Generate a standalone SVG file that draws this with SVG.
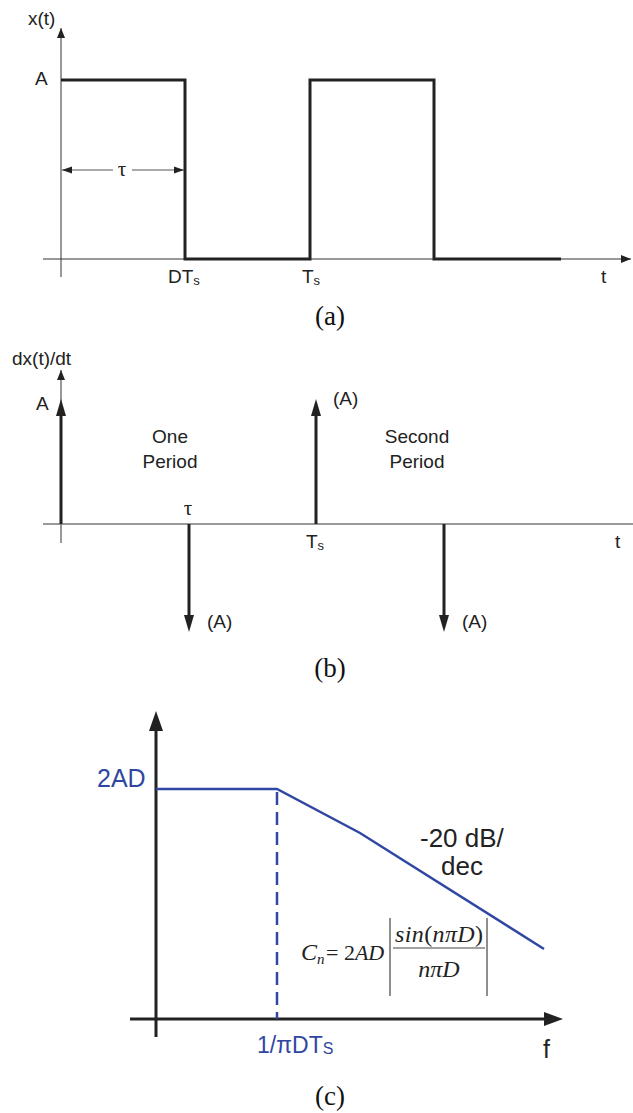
<svg xmlns="http://www.w3.org/2000/svg" width="633" height="1113" viewBox="0 0 633 1113">
<style>
.lbl{font-family:"Liberation Sans",Arial,sans-serif;font-size:19px;fill:#222}
.tau{font-family:"Liberation Serif","Times New Roman",serif;font-size:21px;fill:#222}
.cap{font-family:"Liberation Serif","Times New Roman",serif;font-size:27px;fill:#111}
.sig{fill:none;stroke:#222;stroke-width:3}
.axis{fill:none;stroke:#333;stroke-width:1}
.gax{fill:none;stroke:#777;stroke-width:1.5}
.imp{fill:none;stroke:#222;stroke-width:3}
.blue{fill:none;stroke:#2f47a2;stroke-width:2.5}
.btxt{font-family:"Liberation Sans",Arial,sans-serif;fill:#2f47a2}
.ctxt{font-family:"Liberation Sans",Arial,sans-serif;fill:#222}
.math{font-family:"Liberation Serif","Times New Roman",serif;font-size:24px;font-style:italic;fill:#222}
</style>
<defs>
<marker id="sa" viewBox="0 0 10 10" refX="10" refY="5" markerWidth="10" markerHeight="10" markerUnits="userSpaceOnUse" orient="auto"><path d="M0,1 L10,5 L0,9 z" fill="#222"/></marker>
<marker id="da" viewBox="0 0 10 10" refX="10" refY="5" markerWidth="12" markerHeight="10" markerUnits="userSpaceOnUse" orient="auto-start-reverse"><path d="M0,1.5 L10,5 L0,8.5 z" fill="#222"/></marker>
</defs>

<g id="panel-a">
<line class="axis" x1="61" y1="277" x2="61" y2="28" marker-end="url(#sa)"/>
<line class="axis" x1="43" y1="259" x2="631" y2="259" marker-end="url(#sa)"/>
<polyline class="sig" points="61,80 185,80 185,259 310,259 310,80 434,80 434,259 561,259"/>
<line x1="62" y1="170" x2="113" y2="170" stroke="#555" stroke-width="1" marker-start="url(#da)"/>
<line x1="132" y1="170" x2="184" y2="170" stroke="#555" stroke-width="1" marker-end="url(#da)"/>
<text class="tau" x="122" y="176" text-anchor="middle">τ</text>
<text class="lbl" x="28" y="25">x(t)</text>
<text class="lbl" x="35" y="85">A</text>
<text class="lbl" x="168" y="283">DT<tspan font-size="13" dy="2">s</tspan></text>
<text class="lbl" x="302" y="283">T<tspan font-size="13" dy="2">s</tspan></text>
<text class="lbl" x="601" y="283">t</text>
<text class="cap" x="330" y="325" text-anchor="middle">(a)</text>
</g>

<g id="panel-b">
<line class="axis" x1="61" y1="543" x2="61" y2="370" marker-end="url(#sa)"/>
<line class="gax" x1="43" y1="524" x2="633" y2="524"/>
<text class="lbl" x="12" y="365">dx(t)/dt</text>
<text class="lbl" x="36" y="410">A</text>
<g id="imp1"><line class="imp" x1="61" y1="524" x2="61" y2="414"/><path d="M56,416 L61,399 L66,416 z" fill="#222"/></g>
<g id="imp2"><line class="imp" x1="189" y1="524" x2="189" y2="616"/><path d="M184,615 L189,632 L194,615 z" fill="#222"/></g>
<g id="imp3"><line class="imp" x1="316" y1="524" x2="316" y2="414"/><path d="M311,416 L316,399 L321,416 z" fill="#222"/></g>
<g id="imp4"><line class="imp" x1="444" y1="524" x2="444" y2="616"/><path d="M439,615 L444,632 L449,615 z" fill="#222"/></g>
<text class="lbl" x="170" y="443" text-anchor="middle">One</text>
<text class="lbl" x="170" y="468" text-anchor="middle">Period</text>
<text class="lbl" x="417" y="443" text-anchor="middle">Second</text>
<text class="lbl" x="417" y="468" text-anchor="middle">Period</text>
<text class="tau" x="188" y="515" text-anchor="middle">τ</text>
<text class="lbl" x="306" y="548">T<tspan font-size="13" dy="2">s</tspan></text>
<text class="lbl" x="615" y="548">t</text>
<text class="lbl" x="207" y="628">(A)</text>
<text class="lbl" x="333" y="405">(A)</text>
<text class="lbl" x="462" y="628">(A)</text>
<text class="cap" x="330" y="677" text-anchor="middle">(b)</text>
</g>

<g id="panel-c">
<line x1="156" y1="1037" x2="156" y2="728" stroke="#222" stroke-width="3"/>
<path d="M149,731 L156,711 L163,731 z" fill="#222"/>
<line x1="130" y1="1019" x2="547" y2="1019" stroke="#222" stroke-width="3"/>
<path d="M544,1012 L563,1019 L544,1026 z" fill="#222"/>
<polyline class="blue" points="156,789 277,789 360,833 544,949"/>
<line class="blue" x1="277" y1="792" x2="277" y2="1019" stroke-dasharray="13,7"/>
<text class="btxt" x="97" y="787" font-size="25">2AD</text>
<text class="ctxt" x="420" y="847" font-size="26">-20 dB/</text>
<text class="ctxt" x="462" y="875" font-size="26" text-anchor="middle">dec</text>
<g id="formula">
<text class="math" x="301" y="960">C<tspan font-size="15" dy="4">n</tspan></text>
<text class="math" x="326" y="960" style="font-size:22px"><tspan font-style="normal">= 2</tspan>AD</text>
<line x1="390" y1="918" x2="390" y2="996" stroke="#444" stroke-width="1.2"/>
<line x1="487" y1="918" x2="487" y2="996" stroke="#444" stroke-width="1.2"/>
<line x1="393" y1="948" x2="485" y2="948" stroke="#444" stroke-width="1.2"/>
<text class="math" x="395" y="942" textLength="88" lengthAdjust="spacing">sin<tspan font-style="normal">(</tspan>nπD<tspan font-style="normal">)</tspan></text>
<text class="math" x="439" y="977" text-anchor="middle">nπD</text>
</g>
<text class="btxt" x="257" y="1053" font-size="23">1/πDT<tspan font-size="16" dy="1">S</tspan></text>
<text class="ctxt" x="543" y="1058" font-size="25">f</text>
<text class="cap" x="330" y="1105" text-anchor="middle">(c)</text>
</g>
</svg>
